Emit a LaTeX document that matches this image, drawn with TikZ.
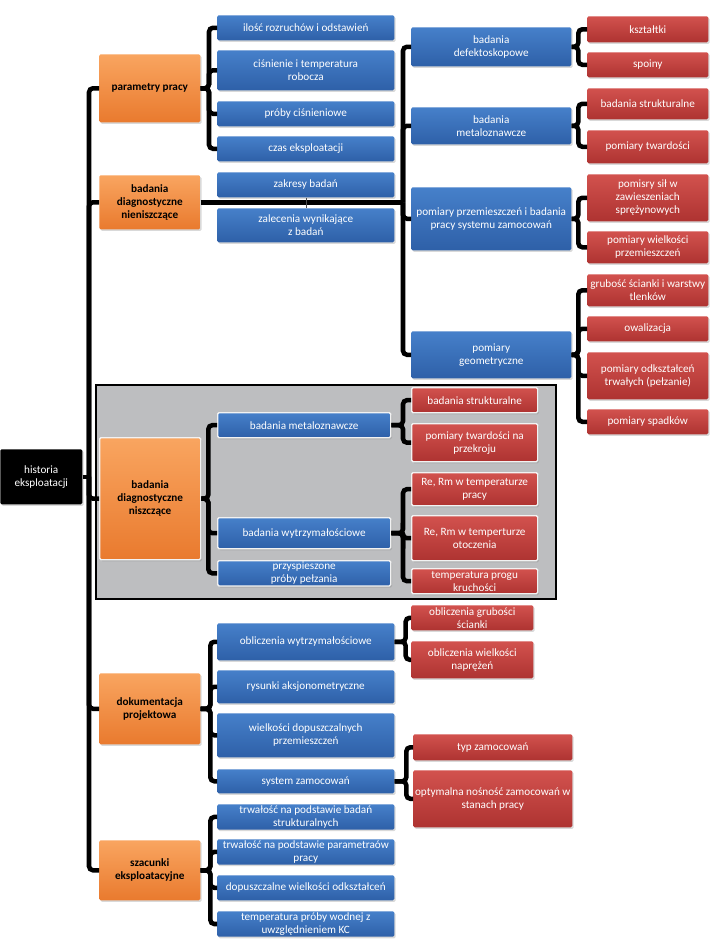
\documentclass[tikz,border=0pt]{standalone}
\usepackage{fontspec}
\setmainfont{Carlito}
\usetikzlibrary{shadows,backgrounds}
\definecolor{orngtop}{HTML}{F9A560}
\definecolor{orngbot}{HTML}{E97A2E}
\definecolor{blutop}{HTML}{4680CA}
\definecolor{blubot}{HTML}{2E60A8}
\definecolor{redtop}{HTML}{D2524E}
\definecolor{redbot}{HTML}{AE3331}
\definecolor{graybg}{HTML}{BDBEC0}

\begin{document}
\begin{tikzpicture}[
  x=0.75pt, y=-0.75pt,
  font=\fontsize{8.4}{9.8}\selectfont,
  box/.style={anchor=north west, align=center, inner sep=1pt, rounded corners=1pt,
    drop shadow={opacity=0.3, shadow xshift=1pt, shadow yshift=-1.2pt}},
  wh/.style 2 args={minimum width=#1*0.75pt, minimum height=#2*0.75pt},
  root/.style={box, fill=black, text=white},
  main/.style={box, top color=orngtop, bottom color=orngbot, font=\fontsize{8.4}{9.8}\selectfont\bfseries},
  sub/.style={box, top color=blutop, bottom color=blubot, text=white},
  leaf/.style={box, top color=redtop, bottom color=redbot, text=white},
  glow/.style={draw=white!90!gray, line width=1pt},
  br/.style={line width=3.4pt, rounded corners=3pt},
  grayframe/.style={draw=black, line width=1.2pt, fill=graybg}
]
\useasboundingbox (0,0) rectangle (720,950);

% root and main branches
\node[root, wh={82}{55}] (hist) at (0,449) {historia\\eksploatacji};
\node[main, wh={101}{68}] (pp) at (99,54) {parametry pracy};
\node[main, wh={101}{54}] (nn) at (99,175) {badania\\diagnostyczne\\nieniszczące};
\node[main, glow, wh={101}{122}] (dn) at (99,437) {badania\\diagnostyczne\\niszczące};
\node[main, wh={101}{71}] (dp) at (99,673) {dokumentacja\\projektowa};
\node[main, wh={101}{60}] (se) at (99,840) {szacunki\\eksploatacyjne};

% parametry pracy
\node[sub, wh={177}{25}] (pp1) at (217,15) {ilość rozruchów i odstawień};
\node[sub, wh={177}{40}] (pp2) at (217,50) {ciśnienie i temperatura\\robocza};
\node[sub, wh={177}{25}] (pp3) at (217,101) {próby ciśnieniowe};
\node[sub, wh={177}{25}] (pp4) at (217,136) {czas eksploatacji};

% badania nieniszczace
\node[sub, wh={177}{25}] (nn1) at (217,172) {zakresy badań};
\node[sub, wh={177}{34}] (nn2) at (217,208) {zalecenia wynikające\\z badań};
\node[sub, wh={160}{39}] (bd) at (411,27) {badania\\defektoskopowe};
\node[sub, wh={160}{37}] (bm) at (411,107) {badania\\metaloznawcze};
\node[sub, wh={160}{63}] (bp) at (411,187) {pomiary przemieszczeń i badania\\pracy systemu zamocowań};
\node[sub, wh={160}{47}] (bg) at (411,331) {pomiary\\geometryczne};

\node[leaf, wh={121}{26}] (bd1) at (587,16) {kształtki};
\node[leaf, wh={121}{25}] (bd2) at (587,52) {spoiny};
\node[leaf, wh={121}{31}] (bm1) at (587,88) {badania strukturalne};
\node[leaf, wh={121}{33}] (bm2) at (587,130) {pomiary twardości};
\node[leaf, wh={121}{47}] (bp1) at (587,174) {pomisry sił w\\zawieszeniach\\sprężynowych};
\node[leaf, wh={121}{32}] (bp2) at (587,231) {pomiary wielkości\\przemieszczeń};
\node[leaf, wh={121}{32}] (bg1) at (587,274) {grubość ścianki i warstwy\\tlenków};
\node[leaf, wh={121}{25}] (bg2) at (587,316) {owalizacja};
\node[leaf, wh={121}{47}] (bg3) at (587,352) {pomiary odkształceń\\trwałych (pełzanie)};
\node[leaf, wh={121}{25}] (bg4) at (587,409) {pomiary spadków};

% badania niszczace
\node[sub, glow, wh={173}{25}] (dn1) at (217,412) {badania metaloznawcze};
\node[sub, glow, wh={173}{31}] (dn2) at (217,517) {badania wytrzymałościowe};
\node[sub, glow, wh={173}{24}] (dn3) at (217,560) {przyspieszone\\próby pełzania};
\node[leaf, glow, wh={126}{25}] (dn11) at (411,387) {badania strukturalne};
\node[leaf, glow, wh={126}{38}] (dn12) at (411,423) {pomiary twardości na\\przekroju};
\node[leaf, glow, wh={126}{33}] (dn21) at (411,472) {Re, Rm w temperaturze\\pracy};
\node[leaf, glow, wh={126}{45}] (dn22) at (411,515) {Re, Rm w temperturze\\otoczenia};
\node[leaf, glow, wh={126}{25}] (dn23) at (411,568) {temperatura progu\\kruchości};

% dokumentacja projektowa
\node[sub, wh={177}{37}] (dp1) at (217,623) {obliczenia wytrzymałościowe};
\node[sub, wh={177}{33}] (dp2) at (217,670) {rysunki aksjonometryczne};
\node[sub, wh={177}{44}] (dp3) at (217,713) {wielkości dopuszczalnych\\przemieszczeń};
\node[sub, wh={177}{24}] (dp4) at (217,769) {system zamocowań};
\node[leaf, wh={122}{25}] (dp11) at (411,605) {obliczenia grubości\\ścianki};
\node[leaf, wh={122}{37}] (dp12) at (411,641) {obliczenia wielkości\\naprężeń};
\node[leaf, wh={159}{26}] (dp41) at (413,734) {typ zamocowań};
\node[leaf, wh={159}{57}] (dp42) at (413,770) {optymalna nośność zamocowań w\\stanach pracy};

% szacunki eksploatacyjne
\node[sub, wh={177}{24}] (se1) at (217,804) {trwałość na podstawie badań\\strukturalnych};
\node[sub, wh={177}{25}] (se2) at (217,839) {trwałość na podstawie parametraów\\pracy};
\node[sub, wh={177}{25}] (se3) at (217,875) {dopuszczalne wielkości odkształceń};
\node[sub, wh={177}{24}] (se4) at (217,911) {temperatura próby wodnej z\\uwzględnieniem KC};

% brackets
\coordinate (tr) at ([xshift=-7.5pt]hist.east -| pp.west);
\draw[br] (hist.east) -- (tr);
\foreach \c in {pp,nn,dn,dp,se} \draw[br] (tr) |- (\c.west);

\coordinate (ppj) at ([xshift=-6pt]pp.east -| pp1.west);
\foreach \c in {pp1,pp2,pp3,pp4} \draw[br] (pp.east) -- (ppj) |- (\c.west);

\coordinate (nnj) at ([xshift=-6pt]nn.east -| bd.west);
\draw[br, line width=4pt] (nn.east) -- (nnj);
\foreach \c in {bd,bm,bp,bg} \draw[br] (nnj) |- (\c.west);
\draw[thin, black!70] (nn1.south) -- (nn2.north);

\coordinate (bdj) at ([xshift=-6.5pt]bd.east -| bd1.west);
\foreach \c in {bd1,bd2} \draw[br] (bd.east) -- (bdj) |- (\c.west);
\coordinate (bmj) at ([xshift=-6.5pt]bm.east -| bm1.west);
\foreach \c in {bm1,bm2} \draw[br] (bm.east) -- (bmj) |- (\c.west);
\coordinate (bpj) at ([xshift=-6.5pt]bp.east -| bp1.west);
\foreach \c in {bp1,bp2} \draw[br] (bp.east) -- (bpj) |- (\c.west);
\coordinate (bgj) at ([xshift=-6.5pt]bg.east -| bg1.west);
\foreach \c in {bg1,bg2,bg3,bg4} \draw[br] (bg.east) -- (bgj) |- (\c.west);

\coordinate (dnj) at ([xshift=-6.5pt]dn.east -| dn1.west);
\foreach \c in {dn1,dn2,dn3} \draw[br] (dn.east) -- (dnj) |- (\c.west);
\coordinate (dn1j) at ([xshift=-6pt]dn1.east -| dn11.west);
\foreach \c in {dn11,dn12} \draw[br] (dn1.east) -- (dn1j) |- (\c.west);
\coordinate (dn2j) at ([xshift=-6pt]dn2.east -| dn21.west);
\foreach \c in {dn21,dn22,dn23} \draw[br] (dn2.east) -- (dn2j) |- (\c.west);

\coordinate (dpj) at ([xshift=-5pt]dp.east -| dp1.west);
\foreach \c in {dp1,dp2,dp3,dp4} \draw[br] (dp.east) -- (dpj) |- (\c.west);
\coordinate (dp1j) at ([xshift=-4pt]dp1.east -| dp11.west);
\foreach \c in {dp11,dp12} \draw[br] (dp1.east) -- (dp1j) |- (\c.west);
\coordinate (dp4j) at ([xshift=-5pt]dp4.east -| dp41.west);
\foreach \c in {dp41,dp42} \draw[br] (dp4.east) -- (dp4j) |- (\c.west);

\coordinate (sej) at ([xshift=-5pt]se.east -| se1.west);
\foreach \c in {se1,se2,se3,se4} \draw[br] (se.east) -- (sej) |- (\c.west);

% gray panel behind the destructive tests
\begin{scope}[on background layer]
\draw[grayframe] (96,385) rectangle (556,599);
\end{scope}
\end{tikzpicture}
\end{document}
